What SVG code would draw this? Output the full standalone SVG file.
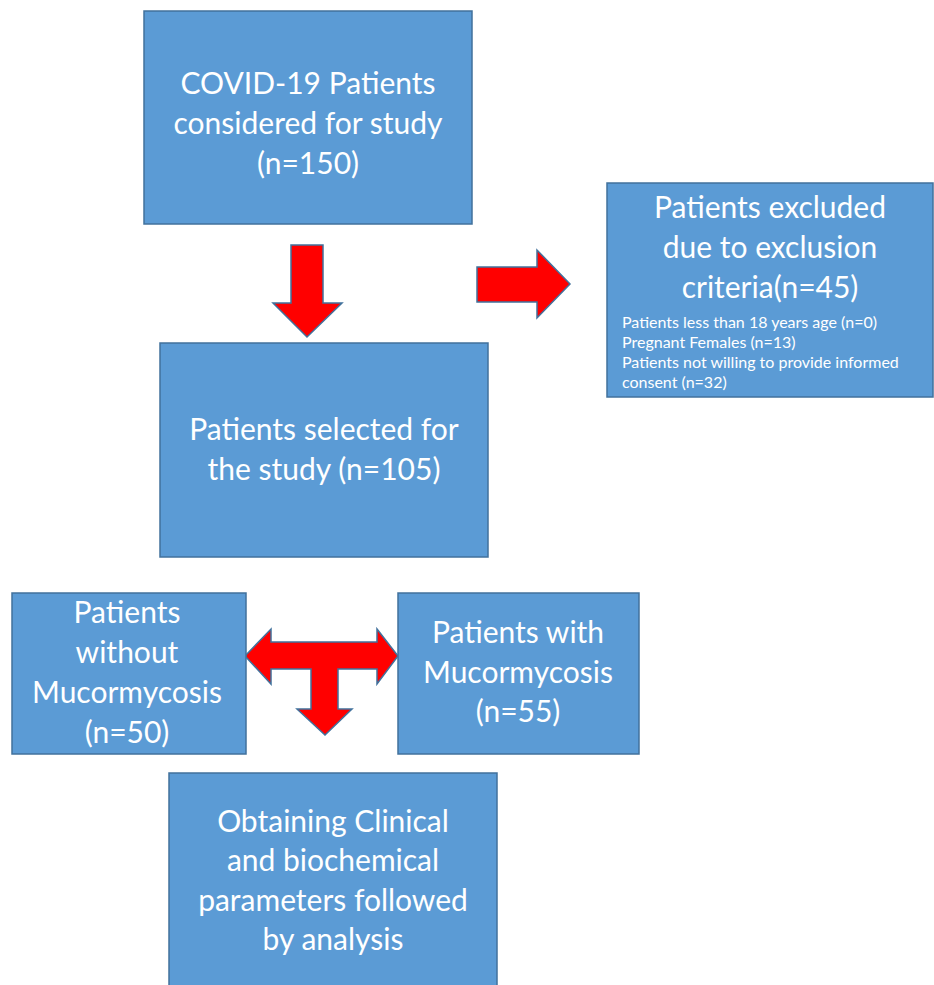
<svg xmlns="http://www.w3.org/2000/svg" width="934" height="985" viewBox="0 0 934 985">
<style>
.box{fill:#5B9BD5;stroke:#41719C;stroke-width:1.5}
.arr{fill:#FF0000;stroke:#41719C;stroke-width:1.5;stroke-linejoin:miter}
.t{font-family:Lato,"Open Sans",sans-serif;font-size:30px;fill:#FFFFFF;text-anchor:middle}
.s{font-family:Lato,"Open Sans",sans-serif;font-size:16px;fill:#FFFFFF}
</style>
<rect width="934" height="985" fill="#FFFFFF"/>
<g id="connectors">
<polygon class="arr" points="291,245 323,245 323,303 342,303 307,337 273,303 291,303"/>
<polygon class="arr" points="477,267 537,267 537,250 570,284 537,318 537,302 477,302"/>
<polygon class="arr" points="245,656 271,629 271,642 377,642 377,629 398,656 377,684 377,669 338,669 338,709 352,709 325,735 297,709 311,709 311,669 271,669 271,684"/>
</g>
<g id="node-considered">
<rect class="box" x="144" y="11" width="328" height="213"/>
<text class="t" x="308" y="94">COVID-19 Patients</text>
<text class="t" x="308" y="134">considered for study</text>
<text class="t" x="308" y="174">(n=150)</text>
</g>
<g id="node-excluded">
<rect class="box" x="607" y="183" width="326" height="214"/>
<text class="t" x="770" y="218">Patients excluded</text>
<text class="t" x="770" y="258">due to exclusion</text>
<text class="t" x="770" y="298">criteria(n=45)</text>
<text class="s" x="622" y="328">Patients less than 18 years age (n=0)</text>
<text class="s" x="622" y="348">Pregnant Females (n=13)</text>
<text class="s" x="622" y="368">Patients not willing to provide informed</text>
<text class="s" x="622" y="388">consent (n=32)</text>
</g>
<g id="node-selected">
<rect class="box" x="160" y="343" width="328" height="214"/>
<text class="t" x="324" y="440">Patients selected for</text>
<text class="t" x="324" y="480">the study (n=105)</text>
</g>
<g id="node-without">
<rect class="box" x="12" y="593" width="234" height="161"/>
<text class="t" x="127" y="623">Patients</text>
<text class="t" x="127" y="663">without</text>
<text class="t" x="127" y="703">Mucormycosis</text>
<text class="t" x="127" y="743">(n=50)</text>
</g>
<g id="node-with">
<rect class="box" x="398" y="593" width="241" height="161"/>
<text class="t" x="518" y="643">Patients with</text>
<text class="t" x="518" y="683">Mucormycosis</text>
<text class="t" x="518" y="722">(n=55)</text>
</g>
<g id="node-analysis">
<rect class="box" x="169" y="773" width="328" height="220"/>
<text class="t" x="333" y="832">Obtaining Clinical</text>
<text class="t" x="333" y="871">and biochemical</text>
<text class="t" x="333" y="911">parameters followed</text>
<text class="t" x="333" y="950">by analysis</text>
</g>
</svg>
